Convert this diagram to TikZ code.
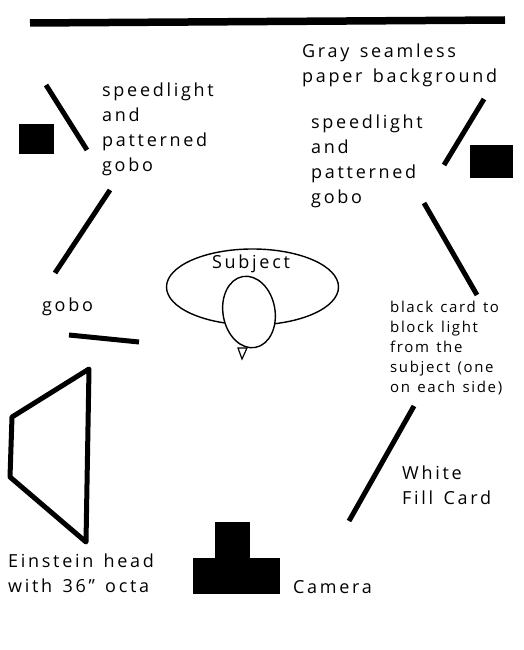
\documentclass[tikz,border=0pt]{standalone}
\usepackage{fontspec}
\setmainfont{Open Sans}
\newfontfamily\widefont[LetterSpace=15,WordSpace=1.4]{Open Sans}
\newfontfamily\midfont[LetterSpace=11,WordSpace=1.3]{Open Sans}
\tikzset{bar/.style={line width=5pt,black},lbl/.style={anchor=west,align=left,font=\widefont\fontsize{18}{25}\selectfont,inner sep=0pt},
slbl/.style={anchor=west,align=left,font=\midfont\fontsize{15}{20}\selectfont,inner sep=0pt},solid box/.style={fill=black,draw=none}}
\begin{document}
\begin{tikzpicture}[x=1pt,y=-1pt]
\useasboundingbox (0,0) rectangle (523,650);
\fill[white] (0,0) rectangle (523,650);
\coordinate (bgA) at (30,23);\coordinate (bgB) at (505,20);
\draw[line width=7.5pt] (bgA)--(bgB);
\node[lbl] (t1) at (302,65) {Gray seamless\\paper background};
\node[lbl] (t2) at (102,129) {speedlight\\and\\patterned\\gobo};
\node[lbl] (t3) at (311,161) {speedlight\\and\\patterned\\gobo};
\node[lbl] (t4) at (42,307) {gobo};
\node[slbl] (t5) at (390,348) {black card to\\block light\\from the\\subject (one\\on each side)};
\node[lbl] (t6) at (402,485) {White\\Fill Card};
\node[lbl] (t7) at (8,573) {Einstein head\\with 36” octa};
\node[lbl] (t8) at (293,587) {Camera};
\node[solid box,minimum width=35pt,minimum height=29pt,inner sep=0pt] (l1) at (36.5,139) {};
\node[solid box,minimum width=43pt,minimum height=33pt,inner sep=0pt] (l2) at (491,161) {};
\draw[bar] (46,85)--(87,150);
\draw[bar] (110,190)--(55,273);
\draw[bar] (484,99)--(444,165);
\draw[bar] (424,203)--(477,295);
\draw[bar] (69,335)--(139,342);
\draw[bar] (414,406)--(349,521);
\draw[line width=5pt,line join=round] (89,369)--(12,417)--(10,477)--(86,542)--cycle;
\draw[line width=1.4pt] (252.5,287) ellipse (86pt and 38pt);
\draw[line width=1.2pt,fill=white] (238,348)--(242,359)--(247,348)--cycle;
\draw[line width=1.4pt,fill=white,rotate around={10:(249,312)}] (249,312) ellipse (26pt and 36pt);
\node[lbl,anchor=center] (t9) at (251,264) {Subject};
\fill (215,522) rectangle (250,558);
\fill (193,558) rectangle (280,594);
\end{tikzpicture}
\end{document}
